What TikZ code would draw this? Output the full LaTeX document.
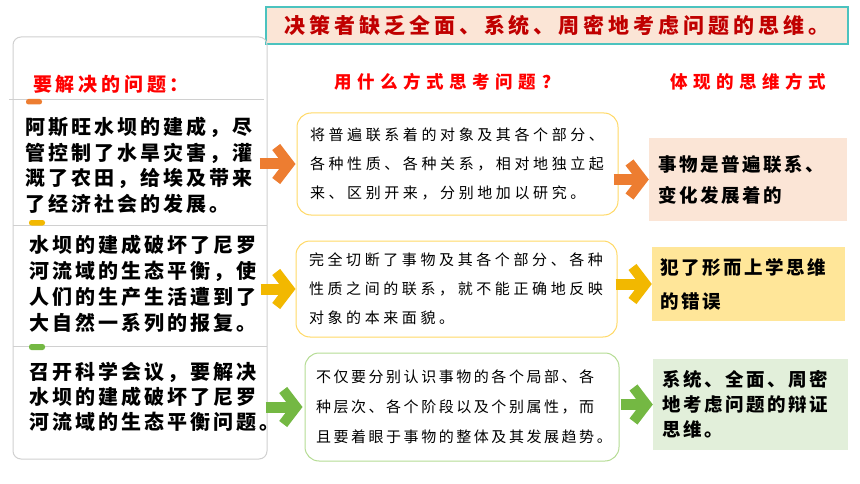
\documentclass[tikz,border=0pt]{standalone}
\usepackage{fontspec}
\usepackage{xcolor}
\usetikzlibrary{arrows.meta}
\newfontfamily\cjk{Noto Sans CJK SC}
\newcommand{\zhfont}[3]{\cjk\fontsize{#1}{#2}\selectfont\addfontfeatures{LetterSpace=#3}}
\newcommand{\zhbold}[3]{\cjk\bfseries\fontsize{#1}{#2}\selectfont\addfontfeatures{LetterSpace=#3}}
\definecolor{titlered}{HTML}{C00000}
\definecolor{headred}{HTML}{FF0000}
\definecolor{tealline}{HTML}{4BC3BF}
\definecolor{peach}{HTML}{FBE5D6}
\definecolor{lightyellow}{HTML}{FFE699}
\definecolor{lightgreen}{HTML}{E2EFDA}
\definecolor{orangec}{HTML}{ED7D31}
\definecolor{yellowc}{HTML}{F2B800}
\definecolor{greenc}{HTML}{74B843}
\definecolor{goldline}{HTML}{FFD966}
\definecolor{greenline}{HTML}{B5DC94}
\definecolor{grayline}{HTML}{D0D0D0}

\begin{document}
\begin{tikzpicture}[x=1pt, y=-1pt,
    midbox/.style={draw, fill=white, line width=1pt, rounded corners=14, align=left, inner ysep=0},
    resbox/.style={align=left, inner ysep=0},
    arr/.style={line width=11pt, -{Straight Barb[length=13pt, width=34pt, line width=10pt]}}]
    \useasboundingbox (0,0) rectangle (860,484);

    % Titre
    \node[draw=tealline, fill=peach, line width=1.2pt, minimum width=582, minimum height=37, inner sep=0,
        text=titlered, font=\zhbold{21}{25}{19}] (ttl) at (557,25.5) {决策者缺乏全面、系统、周密地考虑问题的思维。};

    % Colonne gauche
    \node[draw=grayline, line width=1pt, rounded corners=8, minimum width=254, minimum height=422, inner sep=0] (lbox) at (140,248) {};
    \draw[grayline, line width=1pt] (9,100) -- (264,100);
    \draw[grayline, line width=1pt] (13,225.5) -- (267,225.5);
    \draw[grayline, line width=1pt] (13,346.5) -- (267,346.5);
    \fill[orangec, rounded corners=2.5] (26,99) rectangle (42,104.5);
    \fill[yellowc, rounded corners=2.5] (29,220) rectangle (45,225.5);
    \fill[greenc, rounded corners=2.5] (29,344) rectangle (45,350);

    \node[anchor=west, inner sep=0, text=headred, font=\zhbold{19}{22}{20}] (q) at (33,84) {要解决的问题：};
    \node[anchor=north west, inner sep=0, align=left, font=\zhbold{20}{25.5}{15}] (p1) at (25,117)
        {阿斯旺水坝的建成，尽\\管控制了水旱灾害，灌\\溉了农田，给埃及带来\\了经济社会的发展。};
    \node[anchor=north west, inner sep=0, align=left, font=\zhbold{20}{26}{15}] (p2) at (29,235)
        {水坝的建成破坏了尼罗\\河流域的生态平衡，使\\人们的生产生活遭到了\\大自然一系列的报复。};
    \node[anchor=north west, inner sep=0, align=left, font=\zhbold{20}{25}{15}] (p3) at (29,362)
        {召开科学会议，要解决\\水坝的建成破坏了尼罗\\河流域的生态平衡问题。};

    % En-tetes
    \node[anchor=west, inner sep=0, text=headred, font=\zhbold{17.5}{20}{32}] (h1) at (334,82) {用什么方式思考问题？};
    \node[anchor=west, inner sep=0, text=headred, font=\zhbold{17.5}{20}{32}] (h2) at (670,82) {体现的思维方式};

    % Colonne du milieu
    \node[midbox, draw=goldline, text width=295, inner xsep=13, minimum height=102, font=\zhfont{15}{29}{24}] (m1) at (457.5,164)
        {将普遍联系着的对象及其各个部分、\\各种性质、各种关系，相对地独立起\\来、区别开来，分别地加以研究。};
    \node[midbox, draw=goldline, text width=295, inner xsep=13, minimum height=96, font=\zhfont{15}{29}{24}] (m2) at (456.5,289)
        {完全切断了事物及其各个部分、各种\\性质之间的联系，就不能正确地反映\\对象的本来面貌。};
    \node[midbox, draw=greenline, text width=292, inner xsep=11, minimum height=108, font=\zhfont{15}{30}{17}] (m3) at (462,407)
        {不仅要分别认识事物的各个局部、各\\种层次、各个阶段以及个别属性，而\\且要着眼于事物的整体及其发展趋势。};

    % Colonne droite
    \node[resbox, fill=peach, text width=180, inner xsep=9, minimum height=83, font=\zhbold{18.5}{31}{14}] (r1) at (748,179.5)
        {事物是普遍联系、\\变化发展着的};
    \node[resbox, fill=lightyellow, text width=177, inner xsep=8, minimum height=74, font=\zhbold{18.5}{34}{14}] (r2) at (748.5,284)
        {犯了形而上学思维\\的错误};
    \node[resbox, fill=lightgreen, text width=177, inner xsep=9, minimum height=91, font=\zhbold{18.5}{25}{14}] (r3) at (750.5,404.5)
        {系统、全面、周密\\地考虑问题的辩证\\思维。};

    % Fleches
    \coordinate (a1) at ([xshift=-8pt]lbox.east |- m1.west);
    \coordinate (a2) at ([xshift=-7pt]lbox.east |- m2.west);
    \coordinate (a3) at ([xshift=-2pt]lbox.east |- m3.west);
    \coordinate (b1) at ([xshift=-5pt]m1.east |- r1.west);
    \coordinate (b2) at ([xshift=-2pt]m2.east |- r2.west);
    \coordinate (b3) at ([xshift=1pt]m3.east |- r3.west);
    \draw[arr, orangec, shorten >=1pt] (a1) -- (m1.west);
    \draw[arr, yellowc] (a2) -- (m2.west);
    \draw[arr, greenc, shorten >=2pt] (a3) -- (m3.west);
    \draw[arr, orangec] (b1) -- (r1.west);
    \draw[arr, yellowc] (b2) -- (r2.west);
    \draw[arr, greenc] (b3) -- (r3.west);

\end{tikzpicture}
\end{document}
